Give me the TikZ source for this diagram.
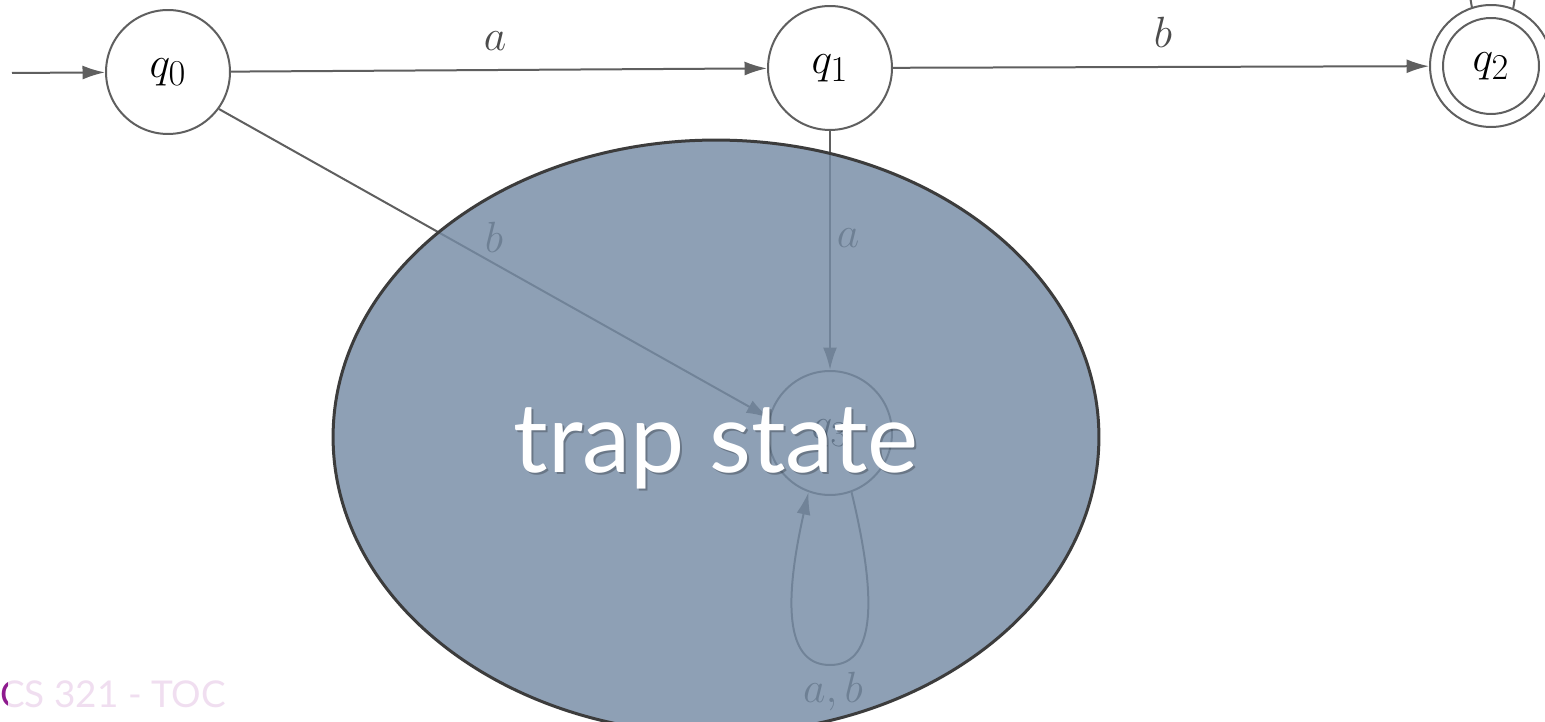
\documentclass[tikz,border=0pt]{standalone}
\usepackage{fontspec}
\newfontfamily\gill{Lato}
\usetikzlibrary{arrows.meta,shapes.geometric}
\definecolor{linec}{RGB}{95,95,95}
\definecolor{blobfill}{RGB}{118,140,165}
\definecolor{blobedge}{RGB}{60,60,60}
\definecolor{lav}{RGB}{240,222,240}
\definecolor{purp}{RGB}{142,26,142}
\begin{document}
\begin{tikzpicture}[x=0.02cm,y=-0.02cm,
  state/.style={circle,draw=linec,line width=0.04cm,minimum size=2.48cm,inner sep=0pt,font=\fontsize{24.88}{30}\selectfont},
  edge/.style={draw=linec,line width=0.04cm,-{Latex[length=0.45cm,width=0.28cm]}},
  lbl/.style={font=\fontsize{24.88}{30}\selectfont,text=linec!80!black},
  cslabel/.style={anchor=base west,inner sep=0pt,font=\gill\fontsize{21}{24}\selectfont},
  bigtext/.style={anchor=base,font=\gill\fontsize{55}{64}\selectfont}]
\clip (0,0) rectangle (1545,722);
\fill[white] (0,0) rectangle (1545,722);
\node[state] (q0) at (168,72) {$q_0$};
\node[state] (q1) at (830,68) {$q_1$};
\node[state,minimum size=2.44cm] (q2) at (1491,66) {$q_2$};
\draw[linec,line width=0.04cm] (q2.center) circle[radius=0.96cm];
\node[state] (q3) at (830,433) {$q_3$};
\coordinate (start) at (12,73);
\draw[edge] (start) -- (q0);
\draw[edge] (q0) -- node[lbl,midway,shift={(-4,-29)}] {$a$} (q1);
\draw[edge] (q1) -- node[lbl,midway,shift={(2,-35)}] {$b$} (q2);
\draw[edge] (q1) -- node[lbl,pos=0.45,shift={(18,0)}] {$a$} (q3);
\draw[edge] (q0.-36) -- node[lbl,midway,shift={(0,-26)}] {$b$} (q3.166);
\draw[edge] (q3.-70) .. controls (880,610) and (872,665) .. (830,665)
  node[lbl,shift={(3,27)}] {$a,b$}
  .. controls (788,665) and (782,610) .. (q3.-110);
\draw[linec,line width=0.04cm] (q2.69) .. controls (1530,-80) and (1455,-80) .. (q2.108);
\node[ellipse,draw=blobedge,line width=0.06cm,fill=blobfill,fill opacity=0.82,
  minimum width=15.32cm,minimum height=11.88cm,inner sep=0pt] (trap) at (716,437) {};
\node[bigtext,text=black,text opacity=0.25] (trapshadow) at (718,475) {trap state};
\node[bigtext,text=white] (traptext) at (716,473) {trap state};
\node[cslabel,text=lav] (cs) at (0,707) {CS 321 - TOC};
\begin{scope}
\clip (0,675) rectangle (7,715);
\node[cslabel,text=purp] (csc) at (0,707) {C};
\end{scope}
\end{tikzpicture}
\end{document}
